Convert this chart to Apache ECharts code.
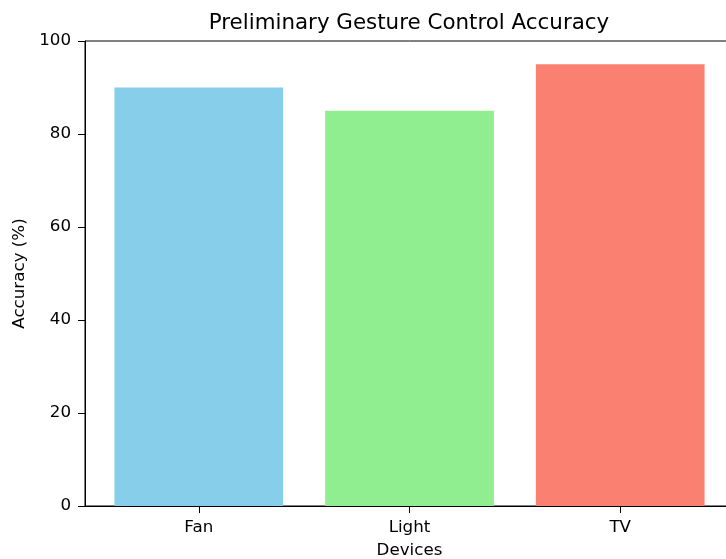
<!DOCTYPE html>
<html>
<head>
<meta charset="utf-8">
<script src="https://cdn.jsdelivr.net/npm/echarts@6/dist/echarts.min.js"></script>
<style>
html,body{margin:0;padding:0;background:#fff;overflow:hidden;width:726px;height:559px;}
#chart{width:760px;height:559px;}
</style>
</head>
<body>
<div id="chart"></div>
<script>
const categories = ['Fan', 'Light', 'TV'];
const accuracy = [90, 85, 95];
const barColors = ['#87CEEB', '#90EE90', '#FA8072'];
const yTicks = [0, 20, 40, 60, 80, 100];

const FONT = 'DejaVu Sans';
const chart = echarts.init(document.getElementById('chart'), null, {renderer: 'canvas'});

const option = {
  animation: false,
  backgroundColor: '#ffffff',
  graphic: [{
    type: 'text',
    x: 409, y: 23.5,
    style: {
      text: 'Preliminary Gesture Control Accuracy',
      fontFamily: FONT,
      fontSize: 21.4,
      fill: '#000',
      textAlign: 'center',
      textVerticalAlign: 'middle'
    }
  }],
  grid: {left: 85, top: 41, width: 649, height: 465, containLabel: false,
    outerBoundsMode: 'none',
    show: true, borderColor: '#000', borderWidth: 1, backgroundColor: 'transparent'},
  xAxis: {
    type: 'value',
    min: -0.54, max: 2.54,
    splitLine: {show: false},
    axisLine: {show: true, onZero: false, lineStyle: {color: '#000', width: 1}},
    axisTick: {show: true, length: 7, inside: false, lineStyle: {color: '#000'}, customValues: categories.map((c, i) => i)},
    axisLabel: {
      show: true, margin: 13, color: '#000', fontFamily: FONT, fontSize: 16.7,
      customValues: categories.map((c, i) => i),
      formatter: v => categories[Math.round(v)]
    },
    name: 'Devices',
    nameLocation: 'middle',
    nameGap: 36,
    nameTextStyle: {color: '#000', fontFamily: FONT, fontSize: 16.7}
  },
  yAxis: {
    type: 'value',
    min: 0, max: 100, interval: 20,
    splitLine: {show: false},
    axisLine: {show: true, onZero: false, lineStyle: {color: '#000', width: 1}},
    axisTick: {show: true, length: 7, lineStyle: {color: '#000'}},
    axisLabel: {margin: 14, color: '#000', fontFamily: FONT, fontSize: 16.7,
      customValues: yTicks},
    name: 'Accuracy (%)',
    nameLocation: 'middle',
    nameGap: 56,
    nameTextStyle: {color: '#000', fontFamily: FONT, fontSize: 16.7}
  },
  series: [{
    type: 'bar',
    barWidth: 168.7,
    data: accuracy.map((v, i) => ({value: [i, v], itemStyle: {color: barColors[i]}}))
  }]
};
chart.setOption(option);
</script>
</body>
</html>
